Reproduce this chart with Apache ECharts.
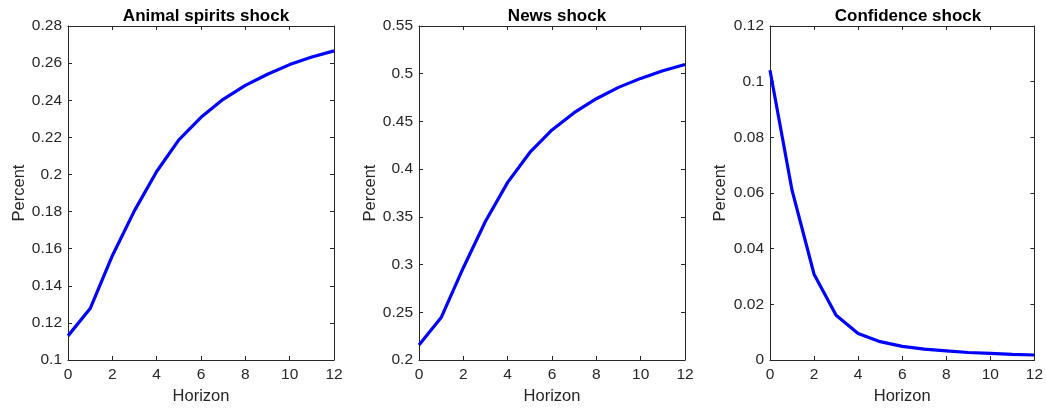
<!DOCTYPE html>
<html><head><meta charset="utf-8">
<script src="https://cdn.jsdelivr.net/npm/echarts@6/dist/echarts.min.js"></script>
<style>html,body{margin:0;padding:0;background:#fff}#c{width:1046px;height:410px}</style>
</head><body><div id="c"></div>
<script>
const horizon = [0,1,2,3,4,5,6,7,8,9,10,11,12];
const titles = ['Animal spirits shock','News shock','Confidence shock'];
const animalSpirits = [0.1130,0.1277,0.1562,0.1805,0.2016,0.2186,0.2308,0.2405,0.2480,0.2540,0.2592,0.2633,0.2666];
const newsShock = [0.2157,0.2445,0.2967,0.3454,0.3861,0.4175,0.4411,0.4592,0.4738,0.4857,0.4951,0.5031,0.5097];
const confidence = [0.1041,0.0610,0.0308,0.0161,0.0095,0.0066,0.0049,0.0039,0.0033,0.0027,0.0024,0.0020,0.0018];
const yRanges = [[0.1,0.28,0.02],[0.2,0.55,0.05],[0,0.12,0.02]];
const seriesData = [animalSpirits,newsShock,confidence];

const lefts = [68,419,770];
const W = 266, TOP = 26, H = 335;
const font = '"Liberation Sans", Arial, Helvetica, sans-serif';
const axisCol = '#262626';
const chart = echarts.init(document.getElementById('c'));
const grid=[], xAxis=[], yAxis=[], series=[], title=[];
function fmt(v){ return String(parseFloat(v.toFixed(4))); }
for(let i=0;i<3;i++){
  grid.push({left:lefts[i],top:TOP,width:W,height:H,show:false,containLabel:false});
  title.push({text:titles[i],left:lefts[i]+W/2,top:3,textAlign:'center',
    textStyle:{fontFamily:font,fontSize:17,fontWeight:'bold',color:'#000'}});
  const common = {type:'value',gridIndex:i,splitLine:{show:false},
    axisLine:{show:true,onZero:false,lineStyle:{color:axisCol,width:1}},
    axisTick:{show:true,inside:true,length:4,lineStyle:{color:axisCol}}};
  xAxis.push(Object.assign({},common,{position:'bottom',min:0,max:12,interval:2,
    name:'Horizon',nameLocation:'middle',nameGap:28,
    nameTextStyle:{fontFamily:font,fontSize:16.5,color:axisCol},
    axisLabel:{fontFamily:font,fontSize:15.5,color:axisCol,margin:7}}));
  xAxis.push(Object.assign({},common,{position:'top',min:0,max:12,interval:2,axisLabel:{show:false}}));
  const [mn,mx,iv] = yRanges[i];
  yAxis.push(Object.assign({},common,{position:'left',min:mn,max:mx,interval:iv,
    name:'Percent',nameLocation:'middle',nameGap: i===2?41:40,nameRotate:90,
    nameTextStyle:{fontFamily:font,fontSize:16.5,color:axisCol},
    axisLabel:{fontFamily:font,fontSize:15.5,color:axisCol,margin:6,formatter:fmt}}));
  yAxis.push(Object.assign({},common,{position:'right',min:mn,max:mx,interval:iv,axisLabel:{show:false}}));
  series.push({type:'line',xAxisIndex:2*i,yAxisIndex:2*i,
    data:horizon.map((h,k)=>[h,seriesData[i][k]]),
    showSymbol:false,symbol:'none',lineStyle:{color:'#0000ff',width:3.2},itemStyle:{color:'#0000ff'},
    animation:false,silent:true});
}
chart.setOption({animation:false,title,grid,xAxis,yAxis,series});
</script></body></html>
